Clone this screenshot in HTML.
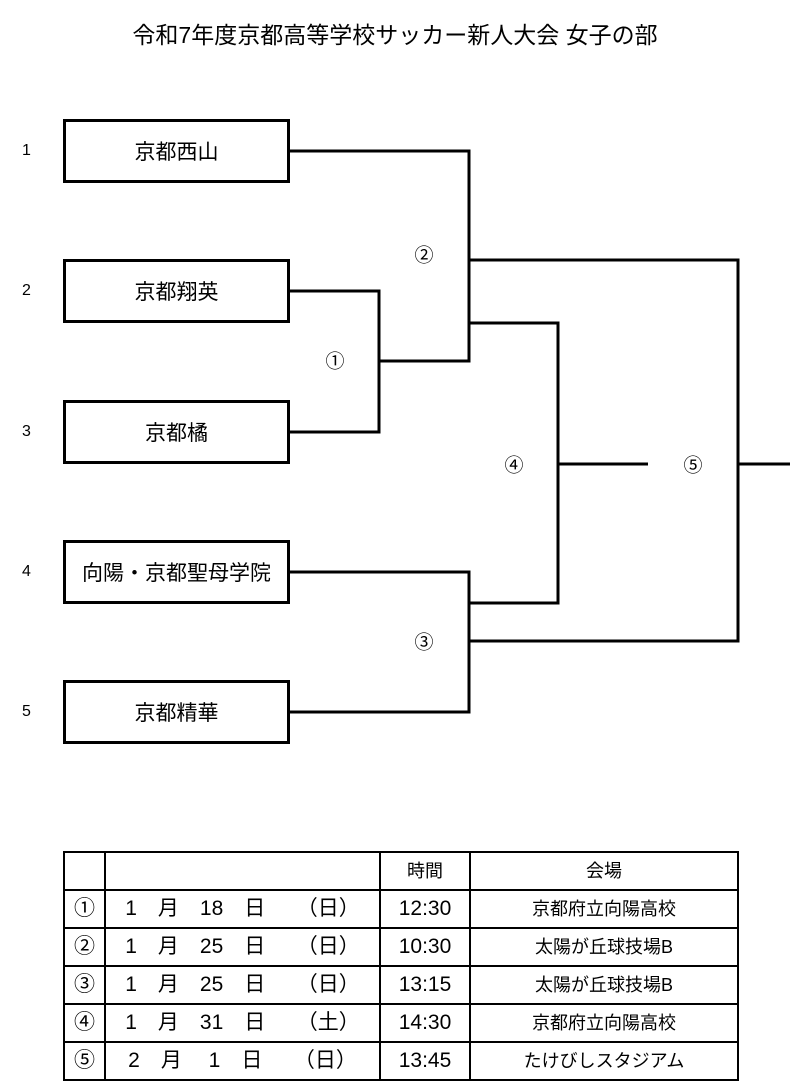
<!DOCTYPE html>
<html><head><meta charset="utf-8"><style>
body{margin:0;background:#fff;width:803px;height:1088px;position:relative;overflow:hidden;font-family:"Liberation Sans","Noto Sans CJK JP",sans-serif;color:#000}
.t{position:absolute;white-space:nowrap}
.box{position:absolute;left:63px;width:221px;height:58px;border:3px solid #000;font-size:21px;display:flex;align-items:center;justify-content:center}
.n{position:absolute;left:22px;font-size:16px}
.c{position:absolute;font-size:19px;transform:translate(-50%,-50%)}
table{position:absolute;left:63px;top:851px;border-collapse:collapse;width:676px;table-layout:fixed}
td{border:2px solid #000;height:36px;padding:0;text-align:center;font-size:21px;line-height:36px}
td.s{font-size:18px}
</style></head><body>
<div class="t" style="left:0;width:790px;text-align:center;top:16px;font-size:23px">令和7年度京都高等学校サッカー新人大会 女子の部</div>
<div class="box" style="top:119px">京都西山</div>
<div class="box" style="top:259px">京都翔英</div>
<div class="box" style="top:400px">京都橘</div>
<div class="box" style="top:540px">向陽・京都聖母学院</div>
<div class="box" style="top:680px">京都精華</div>
<div class="n" style="top:142px">1</div><div class="n" style="top:282px">2</div><div class="n" style="top:423px">3</div><div class="n" style="top:563px">4</div><div class="n" style="top:703px">5</div>
<svg style="position:absolute;left:0;top:0" width="803" height="1088" fill="none" stroke="#000" stroke-width="3">
<path d="M289 151H469V361H379"/><path d="M289 291H379V432H289"/>
<path d="M469 260H738V641H469"/><path d="M469 323H558V603H469"/>
<path d="M289 572H469V712H289"/>
<path d="M558 464H648"/><path d="M738 464H790"/>
</svg>
<div class="c" style="left:335px;top:360px">①</div>
<div class="c" style="left:424px;top:254px">②</div>
<div class="c" style="left:424px;top:641px">③</div>
<div class="c" style="left:514px;top:464px">④</div>
<div class="c" style="left:693px;top:464px">⑤</div>
<table>
<colgroup><col style="width:41px"><col style="width:275px"><col style="width:90px"><col></colgroup>
<tr><td></td><td></td><td class="s">時間</td><td class="s">会場</td></tr>
<tr><td>①</td><td>1　月　18　日　　（日）</td><td>12:30</td><td class="s">京都府立向陽高校</td></tr>
<tr><td>②</td><td>1　月　25　日　　（日）</td><td>10:30</td><td class="s">太陽が丘球技場B</td></tr>
<tr><td>③</td><td>1　月　25　日　　（日）</td><td>13:15</td><td class="s">太陽が丘球技場B</td></tr>
<tr><td>④</td><td>1　月　31　日　　（土）</td><td>14:30</td><td class="s">京都府立向陽高校</td></tr>
<tr><td>⑤</td><td>2　月　 1　日　　（日）</td><td>13:45</td><td class="s">たけびしスタジアム</td></tr>
</table>
</body></html>
